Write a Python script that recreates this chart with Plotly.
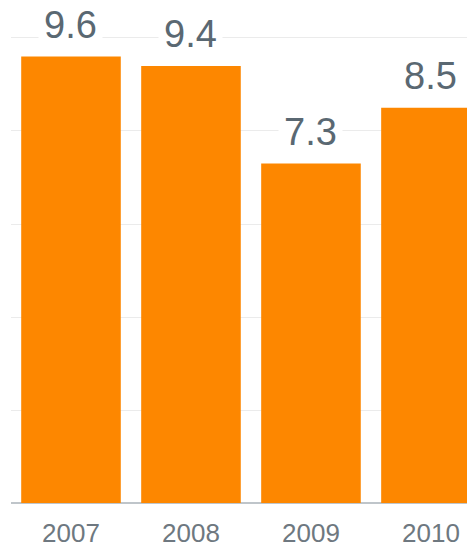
import plotly.graph_objects as go

years = ["2007", "2008", "2009", "2010"]
values = [9.6, 9.4, 7.3, 8.5]
value_labels = ["9.6", "9.4", "7.3", "8.5"]

BAR_COLOR = "#FD8700"
LABEL_COLOR = "#5A6872"
TICK_COLOR = "#6E7880"

fig = go.Figure()
fig.add_trace(go.Bar(
    x=years, y=values,
    marker=dict(color=BAR_COLOR, line=dict(width=0)),
    hoverinfo="skip",
))

for i, (v, lab) in enumerate(zip(values, value_labels)):
    fig.add_annotation(
        x=i, y=v, text=lab, showarrow=False,
        xref="x", yref="y", yanchor="middle", yshift=32,
        font=dict(family="Arial", size=38, color=LABEL_COLOR),
        bgcolor="white", borderpad=5,
    )

fig.update_layout(
    width=467, height=538,
    margin=dict(l=3, r=0, t=0, b=43, autoexpand=False),
    paper_bgcolor="white", plot_bgcolor="white",
    bargap=0.17,
    showlegend=False,
    xaxis=dict(
        type="category", range=[-0.5, 3.367], automargin=False,
        showgrid=False, zeroline=False, showline=False,
        ticks="", ticklabelstandoff=12,
        tickfont=dict(family="Arial", size=26, color=TICK_COLOR),
    ),
    yaxis=dict(
        range=[0, 10.645], dtick=2, showticklabels=False, automargin=False,
        showgrid=True, gridcolor="#EBEBEB", gridwidth=1,
        zeroline=True, zerolinecolor="#BFC5CA", zerolinewidth=2,
        showline=False,
    ),
)

fig.write_html("out.html")
